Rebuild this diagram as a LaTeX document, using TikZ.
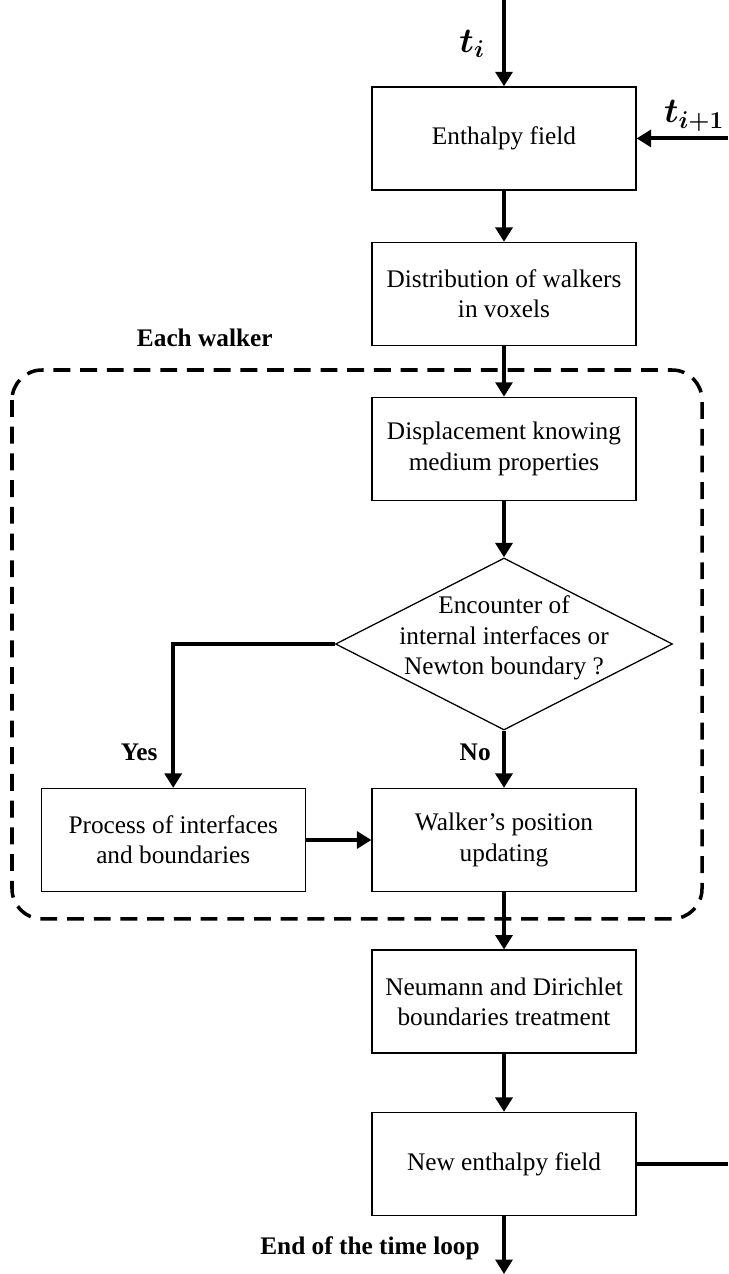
\documentclass[tikz,border=0pt]{standalone}
\usepackage{fontspec}
\setmainfont{Liberation Serif}
\usepackage{bm}
\usetikzlibrary{arrows.meta,shapes.geometric}
\tikzset{
    stepbox/.style={shape=rectangle,draw=black,line width=0.9pt,minimum width=6.6cm,minimum height=2.575cm,align=center,inner sep=0pt},
    decision/.style={shape=diamond,draw=black,line width=0.9pt,minimum width=8.425cm,minimum height=4.3cm,inner sep=0pt},
    flow/.style={draw=black,line width=2.8pt,-{Triangle[length=0.36cm,width=0.42cm]}},
    tag/.style={font=\fontsize{18}{21.5}\selectfont\bfseries},
    timetag/.style={font=\fontsize{23}{27}\selectfont}
}
\begin{document}
\begin{tikzpicture}[font=\fontsize{18}{21.5}\selectfont]
    \useasboundingbox (0,0) rectangle (18.2,-31.85);
    \node[stepbox] (enth) at (12.6,-3.46) {Enthalpy field};
    \node[stepbox] (distr) at (12.6,-7.35) {Distribution of walkers\\in voxels};
    \node[stepbox] (disp) at (12.6,-11.22) {Displacement knowing\\medium properties};
    \node[decision,label={[align=center,yshift=0.15cm]center:Encounter of\\internal interfaces or\\Newton boundary ?}] (enc) at (12.6,-16.1) {};
    \node[stepbox] (proc) at (4.33,-21) {Process of interfaces\\and boundaries};
    \node[stepbox] (walk) at (12.6,-21) {Walker's position\\updating};
    \node[stepbox] (neu) at (12.6,-25.04) {Neumann and Dirichlet\\boundaries treatment};
    \node[stepbox] (newe) at (12.6,-29.1) {New enthalpy field};

    \coordinate (top) at (12.6,0);
    \coordinate (rin) at (18.2,-3.46);
    \coordinate (rout) at (18.2,-29.1);
    \coordinate (bot) at (12.6,-31.85);

    \node[timetag] (ti) at (11.8,-1.1) {$\bm{t_{i}}$};
    \node[timetag] (tn) at (17.35,-2.9) {$\bm{t_{i+1}}$};
    \node[tag] (each) at (5.12,-8.45) {Each walker};
    \node[tag] (yes) at (3.48,-18.82) {Yes};
    \node[tag] (no) at (11.88,-18.82) {No};
    \node[tag] (end) at (9.25,-31.2) {End of the time loop};

    \draw[draw=black,line width=2.5pt,dash pattern=on 12pt off 7pt,rounded corners=0.75cm] (0.3,-9.25) rectangle (17.55,-22.97);

    \draw[flow] (top) to (enth);
    \draw[flow] (rin) to (enth);
    \foreach \a/\b in {enth/distr,distr/disp,disp/enc,enc/walk,proc/walk,walk/neu,neu/newe}
        \draw[flow] (\a) to (\b);
    \draw[flow] (enc.west) -| (proc.north);
    \draw[draw=black,-,line width=2.8pt] (newe) to (rout);
    \draw[flow] (newe) to (bot);
\end{tikzpicture}
\end{document}
